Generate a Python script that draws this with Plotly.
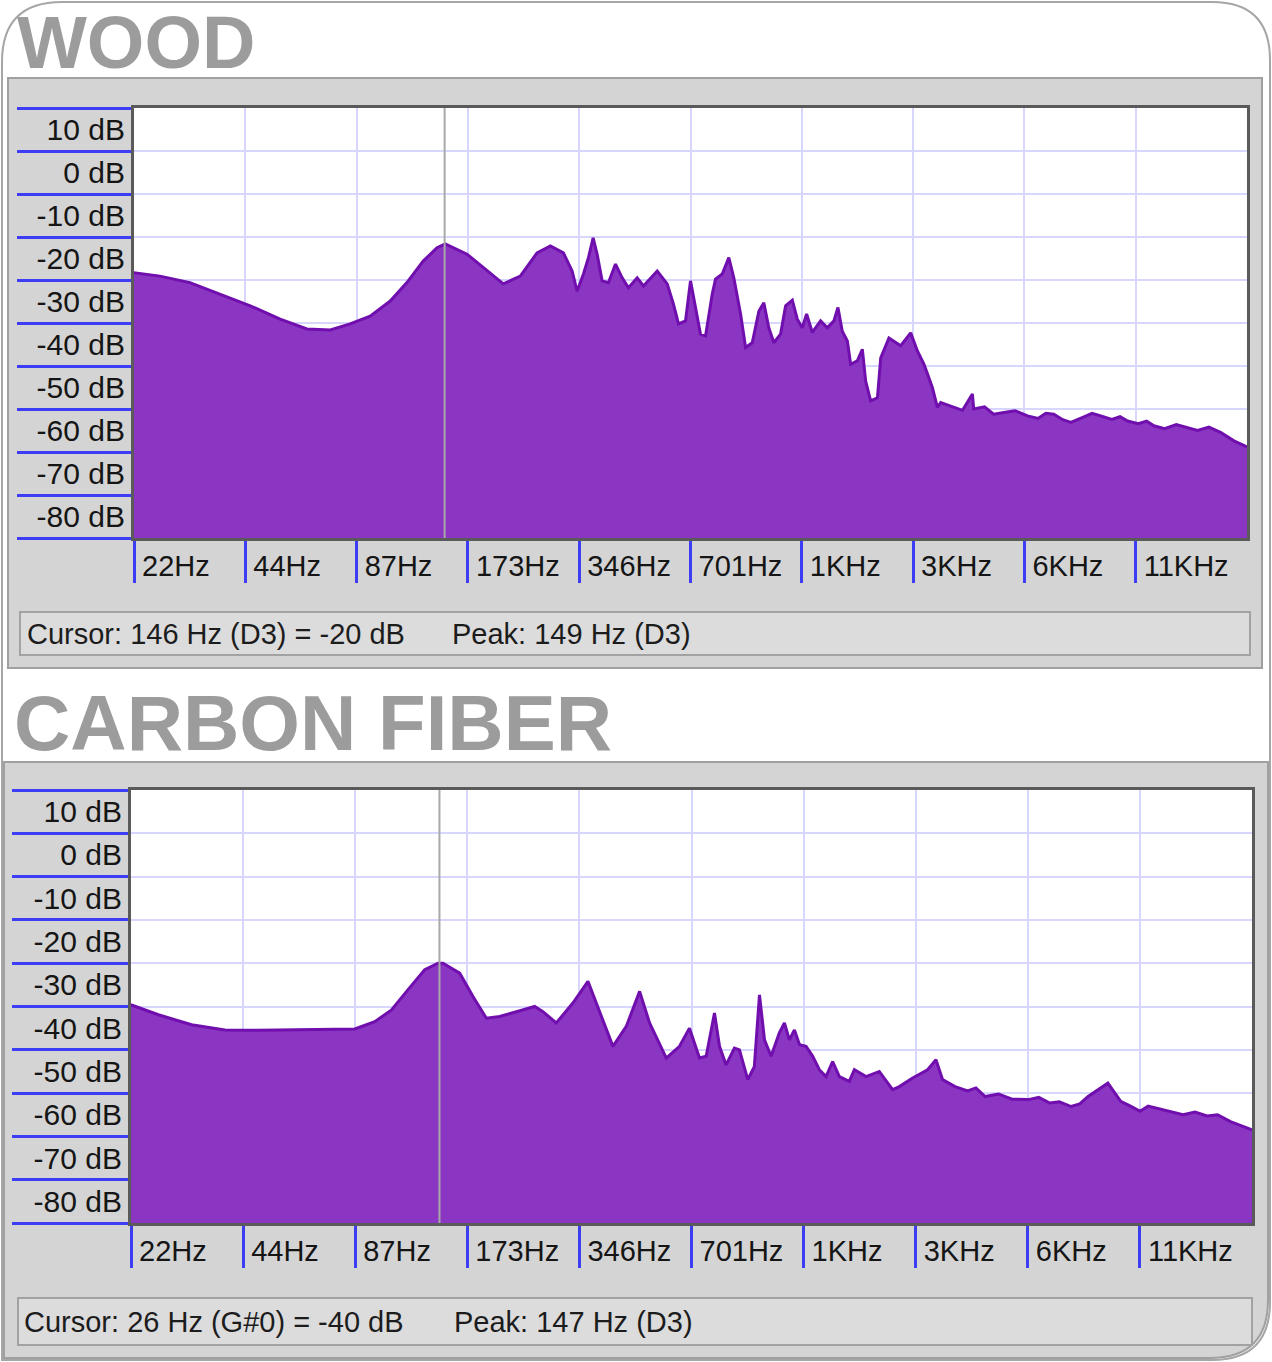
import plotly.graph_objects as go

W, H = 1272, 1362

# spectrum readings (Hz, dB)
wood_hz = [21.5, 25.3, 30.5, 36.8, 44.4, 53.5, 63.2, 73.1, 82.7, 93.7,
           106.2, 117.8, 130.4, 142.1, 149.6, 171.3, 189.6, 214.7, 238.7, 264.9,
           287.9, 312.2, 329.6, 340.0, 353.7, 364.9, 375.7, 385.2, 397.4, 413.4,
           431.9, 450.2, 468.1, 494.3, 513.9, 560.0, 596.0, 619.6, 639.4, 667.9,
           689.0, 710.8, 733.3, 756.6, 788.7, 805.2, 839.5, 874.6, 902.3, 941.1,
           971.0, 1012, 1055, 1088, 1122, 1158, 1207, 1246, 1299, 1340,
           1382, 1420, 1471, 1549, 1615, 1683, 1726, 1773, 1830, 1868,
           1947, 2009, 2051, 2116, 2207, 2253, 2371, 2551, 2715, 2831,
           2950, 3107, 3206, 3273, 3548, 3750, 3987, 4020, 4300, 4550,
           4849, 5200, 5621, 6000, 6300, 6619, 7000, 7359, 7900, 8400,
           8873, 9500, 10000, 10481, 11200, 11800, 12350, 13200, 14200, 15237,
           16200, 17400, 18746, 20329, 22050]
wood_db = [-28.3, -29.1, -30.6, -33.3, -36.0, -39.1, -41.4, -41.6, -40.2, -38.4,
           -34.9, -30.6, -25.6, -22.5, -21.6, -24.0, -27.1, -30.9, -29.1, -23.7,
           -22.1, -23.7, -27.9, -32.6, -28.6, -24.8, -20.2, -24.0, -30.2, -30.6,
           -26.3, -29.5, -31.8, -29.5, -31.4, -27.9, -30.9, -35.6, -40.2, -39.5,
           -30.2, -36.4, -42.6, -43.0, -33.3, -29.8, -28.6, -24.8, -29.5, -37.9,
           -45.7, -44.6, -37.2, -35.3, -41.1, -44.6, -42.6, -36.0, -34.7, -39.1,
           -41.1, -37.9, -42.2, -39.5, -41.1, -39.5, -36.4, -41.9, -44.2, -49.6,
           -48.8, -46.1, -53.5, -58.1, -57.4, -48.1, -43.5, -45.3, -42.3, -46.5,
           -49.6, -55.0, -59.6, -58.5, -59.6, -60.3, -56.5, -60.0, -59.5, -61.2,
           -60.8, -60.4, -61.6, -62.2, -61.0, -61.2, -62.5, -63.1, -62.0, -61.0,
           -61.6, -62.4, -61.8, -62.8, -63.4, -62.8, -63.9, -64.6, -63.6, -64.3,
           -65.0, -64.2, -65.5, -67.4, -68.8]

carbon_hz = [21.5, 25.5, 31.3, 38.5, 47.3, 61.8, 85.9, 97.2, 107.8, 119.4,
             132.4, 143.7, 148.2, 164.3, 178.4, 193.8, 210.4, 233.4, 261.2, 275.0,
             298.6, 330.9, 363.2, 382.4, 423.9, 460.3, 499.9, 531.6, 589.5, 639.7,
             680.4, 723.8, 754.4, 794.2, 819.2, 853.5, 898.5, 926.9, 975.7, 1016,
             1049, 1082, 1127, 1186, 1224, 1262, 1302, 1343, 1399, 1458,
             1519, 1583, 1649, 1719, 1828, 1886, 2027, 2201, 2389, 2491,
             2704, 2966, 3124, 3255, 3515, 3800, 4000, 4233, 4600, 5000,
             5527, 5900, 6315, 6700, 7206, 7600, 8003, 9043, 9792, 10400,
             11039, 11600, 12257, 13200, 14395, 15500, 16700, 17823, 19304, 22050]
carbon_db = [-39.6, -41.9, -44.2, -45.4, -45.5, -45.4, -45.2, -43.5, -40.8, -36.1,
             -31.5, -30.0, -30.0, -32.3, -37.7, -42.7, -42.3, -41.2, -40.0, -41.2,
             -43.8, -39.2, -34.2, -39.2, -49.2, -44.6, -36.5, -43.8, -51.9, -49.2,
             -45.0, -51.9, -51.5, -41.5, -49.2, -53.5, -49.6, -50.0, -56.9, -53.9,
             -37.3, -47.7, -51.5, -46.1, -43.8, -47.7, -45.4, -48.8, -49.2, -51.5,
             -54.6, -56.2, -52.7, -56.2, -57.3, -54.6, -56.2, -55.0, -59.2, -58.5,
             -56.5, -54.6, -52.3, -56.9, -58.5, -59.5, -58.8, -60.8, -60.2, -61.4,
             -61.5, -61.0, -62.3, -62.0, -63.1, -62.5, -60.8, -57.7, -61.9, -63.0,
             -64.2, -63.0, -63.5, -64.2, -65.0, -64.4, -65.3, -65.0, -66.6, -68.5]

tick_hz = [21.53, 43.07, 86.13, 172.27, 344.53, 689.06, 1378.1, 2756.3, 5512.5, 11025]
tick_labels = ["22Hz", "44Hz", "87Hz", "173Hz", "346Hz", "701Hz", "1KHz", "3KHz", "6KHz", "11KHz"]
db_lines = [10, 0, -10, -20, -30, -40, -50, -60, -70, -80, -90]
db_labels = ["10 dB", "0 dB", "-10 dB", "-20 dB", "-30 dB", "-40 dB", "-50 dB", "-60 dB", "-70 dB", "-80 dB"]
cursor_hz = [149, 145]
titles = ["WOOD", "CARBON FIBER"]
cursor_text = ["Cursor: 146 Hz (D3) = -20 dB", "Cursor: 26 Hz (G#0) = -40 dB"]
peak_text = ["Peak: 149 Hz (D3)", "Peak: 147 Hz (D3)"]

FILL = "#8a36c2"
EDGE = "#700eae"
BLUE = "#3d3df5"
GRID = "#d6d6ff"
PANEL = "#d4d4d4"
FONT = "Liberation Sans, Arial, sans-serif"


def px(x):
    return x / W


def py(y):
    return 1 - y / H


# pixel layout of the two analyzer windows
panels = [
    dict(plot=(134, 108, 1247, 538), status=(20, 612, 1250, 655), title=(15, 42, 74),
         cur_x=25, peak_x=450, ruler_x=20),
    dict(plot=(131, 790, 1252, 1223), status=(18, 1298, 1252, 1345), title=(12, 723, 78),
         cur_x=22, peak_x=452, ruler_x=15),
]
series = [(wood_hz, wood_db), (carbon_hz, carbon_db)]

fig = go.Figure()
shapes = []
annotations = []


def path(points):
    out = []
    for cmd, *coords in points:
        vals = []
        for k in range(0, len(coords), 2):
            vals.append("%.5f,%.5f" % (px(coords[k]), py(coords[k + 1])))
        out.append(cmd + " " + " ".join(vals))
    return " ".join(out) + " Z"


# window panels
shapes.append(dict(type="rect", xref="paper", yref="paper", layer="below",
                   x0=px(8), x1=px(1262), y0=py(668), y1=py(78),
                   fillcolor=PANEL, line=dict(color="#a0a0a0", width=2)))
shapes.append(dict(type="path", xref="paper", yref="paper", layer="below",
                   path=path([("M", 4, 762), ("L", 1268, 762), ("L", 1268, 1300),
                              ("Q", 1268, 1358, 1210, 1358), ("L", 4, 1358)]),
                   fillcolor=PANEL, line=dict(color="#a0a0a0", width=2)))

for i, (p, (hz, db)) in enumerate(zip(panels, series)):
    xa = "x" if i == 0 else "x2"
    ya = "y" if i == 0 else "y2"
    # baseline then filled spectrum
    fig.add_trace(go.Scatter(x=[hz[0], hz[-1]], y=[db_lines[-1], db_lines[-1]], mode="lines",
                             line=dict(width=0), showlegend=False, hoverinfo="skip",
                             xaxis=xa, yaxis=ya))
    fig.add_trace(go.Scatter(x=hz, y=db, mode="lines", fill="tonexty", fillcolor=FILL,
                             line=dict(color=EDGE, width=3), showlegend=False,
                             xaxis=xa, yaxis=ya))
    fig.add_trace(go.Scatter(x=[cursor_hz[i], cursor_hz[i]], y=[db_lines[-1], db_lines[0]],
                             mode="lines", line=dict(color="#a8a8a8", width=2),
                             showlegend=False, hoverinfo="skip", xaxis=xa, yaxis=ya))

    x0, y0, x1, y1 = p["plot"]
    shapes.append(dict(type="rect", xref="paper", yref="paper", layer="below",
                       x0=px(x0), x1=px(x1), y0=py(y1), y1=py(y0),
                       fillcolor="white", line=dict(width=0)))
    ax_common = dict(showline=True, mirror=True, linecolor="#5a5a5a", linewidth=3, zeroline=False)
    fig.update_layout(**{
        ("xaxis" if i == 0 else "xaxis2"): dict(
            type="log", domain=[px(x0), px(x1)], anchor=ya,
            range=[1.3330, 4.3434],
            tickmode="array", tickvals=tick_hz, ticktext=tick_labels,
            ticks="outside", ticklen=42, tickwidth=3, tickcolor=BLUE,
            ticklabelposition="outside right", ticklabelshift=5,
            showgrid=True, gridcolor=GRID, gridwidth=2,
            tickfont=dict(family=FONT, size=29, color="#151515"),
            **ax_common),
        ("yaxis" if i == 0 else "yaxis2"): dict(
            domain=[py(y1), py(y0)], anchor=xa, range=[-90, 10],
            tickmode="array", tickvals=[v - 5 for v in db_lines[:-1]], ticktext=db_labels,
            ticks="", showgrid=False,
            minor=dict(tickmode="array", tickvals=db_lines, ticks="outside",
                       ticklen=x0 - p["ruler_x"], tickwidth=3, tickcolor=BLUE,
                       showgrid=True, gridcolor=GRID, gridwidth=2),
            tickfont=dict(family=FONT, size=30, color="#151515"),
            **ax_common),
    })

    # status bar
    sx0, sy0, sx1, sy1 = p["status"]
    shapes.append(dict(type="rect", xref="paper", yref="paper", layer="below",
                       x0=px(sx0), x1=px(sx1), y0=py(sy1), y1=py(sy0),
                       fillcolor="#dcdcdc", line=dict(color="#a2a2a2", width=2)))
    smid = (sy0 + sy1) / 2
    annotations.append(dict(text=cursor_text[i], xref="paper", yref="paper", x=px(p["cur_x"]),
                            y=py(smid), xanchor="left", yanchor="middle", showarrow=False,
                            font=dict(family=FONT, size=29, color="#1c1c1c")))
    annotations.append(dict(text=peak_text[i], xref="paper", yref="paper", x=px(p["peak_x"]),
                            y=py(smid), xanchor="left", yanchor="middle", showarrow=False,
                            font=dict(family=FONT, size=29, color="#1c1c1c")))
    tx, ty, ts = p["title"]
    annotations.append(dict(text="<b>" + titles[i] + "</b>", xref="paper", yref="paper",
                            x=px(tx), y=py(ty), xanchor="left", yanchor="middle",
                            showarrow=False,
                            font=dict(family=FONT, size=ts, color="#9c9c9c")))

# rounded outer frame
shapes.append(dict(type="path", xref="paper", yref="paper", layer="above",
                   path=path([("M", 2, 62), ("Q", 2, 2, 62, 2), ("L", 1212, 2),
                              ("Q", 1270, 2, 1270, 60), ("L", 1270, 1302),
                              ("Q", 1270, 1360, 1212, 1360), ("L", 2, 1360)]),
                   line=dict(color="#a6a6a6", width=2)))

fig.update_layout(width=W, height=H, margin=dict(l=0, r=0, t=0, b=0),
                  paper_bgcolor="white", plot_bgcolor="white",
                  shapes=shapes, annotations=annotations, showlegend=False)

fig.write_html("out.html", config={"displayModeBar": False},
               post_script="document.body.style.margin='0px';")
